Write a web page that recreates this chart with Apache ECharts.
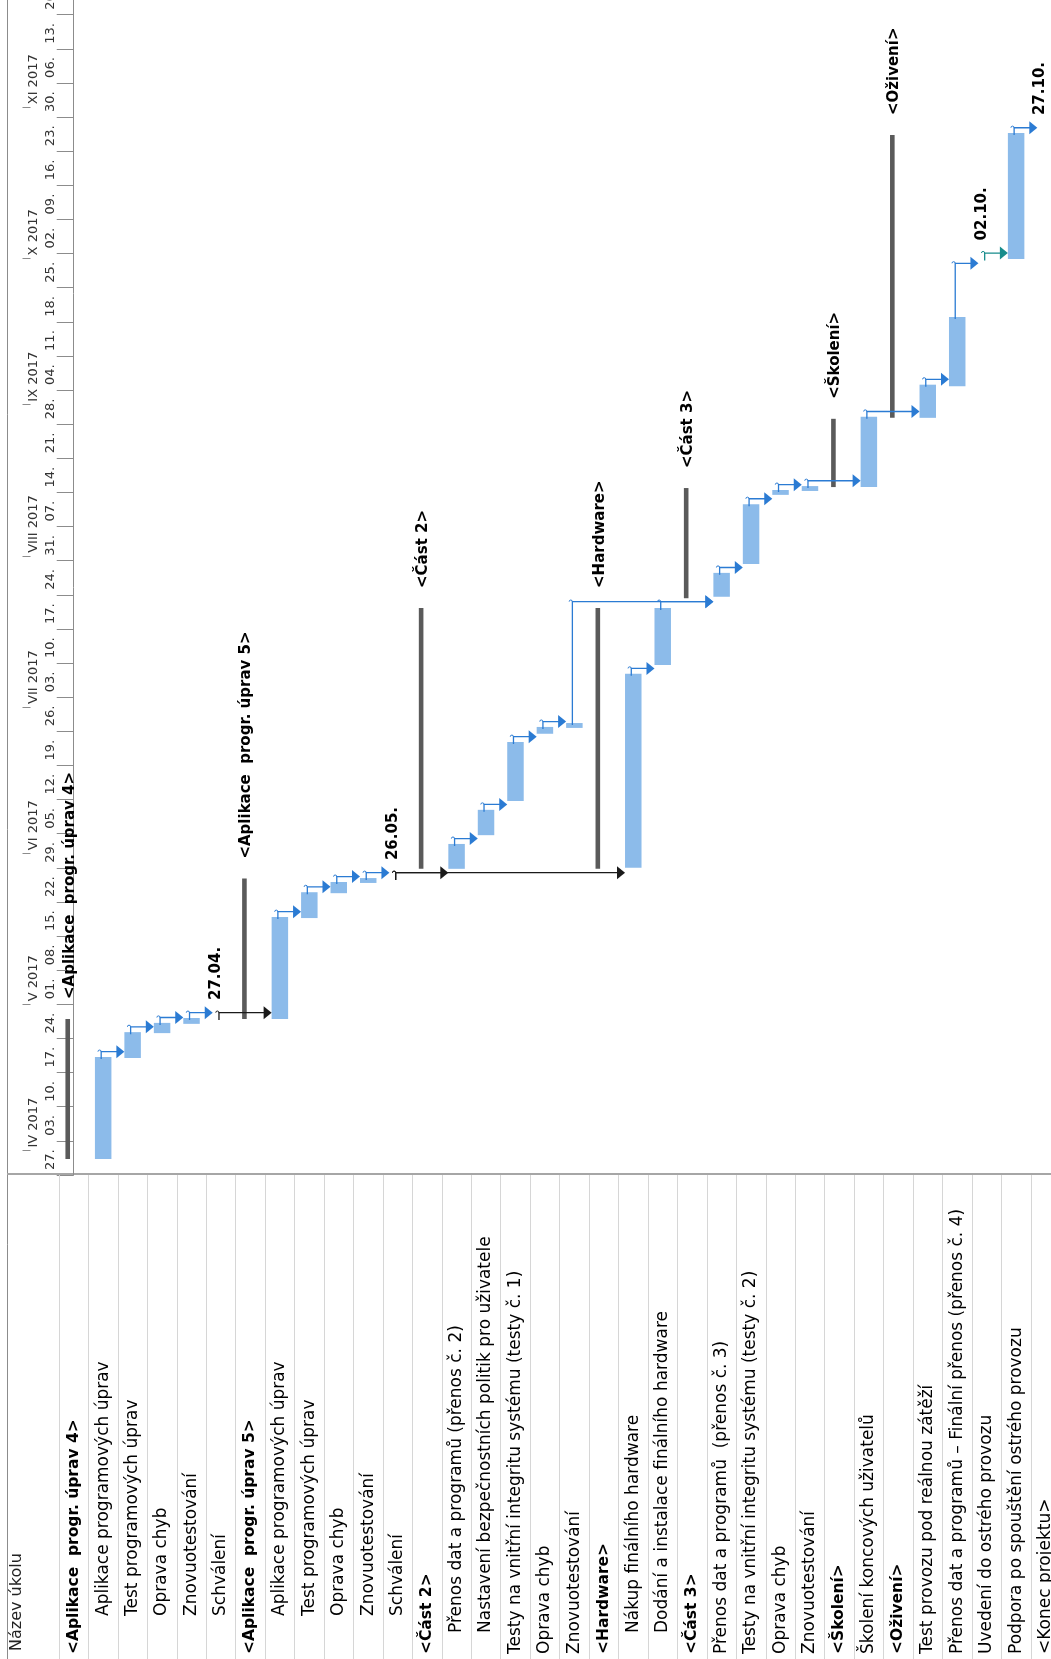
<!DOCTYPE html>
<html>
<head>
<meta charset="utf-8">
<title>Harmonogram projektu</title>
<script src="https://cdn.jsdelivr.net/npm/echarts@6/dist/echarts.min.js"></script>
<style>
    html, body { margin: 0; padding: 0; background: #fff; }
    #gantt { width: 1051px; height: 1659px; }
</style>
</head>
<body>
<div id="gantt"></div>
<script>
    // time is counted in days from Monday 27.03.2017 00:00

    const rowNames = [
        '<Aplikace  progr. úprav 4>', 'Aplikace programových úprav', 'Test programových úprav',
        'Oprava chyb', 'Znovuotestování', 'Schválení',
        '<Aplikace  progr. úprav 5>', 'Aplikace programových úprav', 'Test programových úprav',
        'Oprava chyb', 'Znovuotestování', 'Schválení',
        '<Část 2>', 'Přenos dat a programů (přenos č. 2)', 'Nastavení bezpečnostních politik pro uživatele',
        'Testy na vnitřní integritu systému (testy č. 1)', 'Oprava chyb', 'Znovuotestování',
        '<Hardware>', 'Nákup finálního hardware', 'Dodání a instalace finálního hardware',
        '<Část 3>', 'Přenos dat a programů  (přenos č. 3)', 'Testy na vnitřní integritu systému (testy č. 2)',
        'Oprava chyb', 'Znovuotestování',
        '<Školení>', 'Školení koncových uživatelů',
        '<Oživení>', 'Test provozu pod reálnou zátěží', 'Přenos dat a programů – Finální přenos (přenos č. 4)',
        'Uvedení do ostrého provozu', 'Podpora po spouštění ostrého provozu', '<Konec projektu>'
    ];

    // sum = summary task, task = normal task, ms = milestone
    const rowType = [
        'sum', 'task', 'task', 'task', 'task', 'ms',
        'sum', 'task', 'task', 'task', 'task', 'ms',
        'sum', 'task', 'task', 'task', 'task', 'task',
        'sum', 'task', 'task',
        'sum', 'task', 'task', 'task', 'task',
        'sum', 'task',
        'sum', 'task', 'task', 'ms', 'task', 'ms'
    ];

    // text style of the name column
    const rowStyle = [
        'b', 'i2', 'i2', 'i2', 'i2', 'i2',
        'b', 'i2', 'i2', 'i2', 'i2', 'i2',
        'b', 'i1', 'i1', 'n', 'n', 'n',
        'b', 'i1', 'i1',
        'b', 'n', 'n', 'n', 'n',
        'b', 'n',
        'b', 'n', 'n', 'n', 'n', 'n'
    ];

    const startDay = [
        3.3, 3.3, 24.0, 29.1, 31.0, 32.2,
        32.0, 32.0, 52.7, 57.8, 59.9, 60.9,
        62.8, 62.8, 69.7, 76.7, 90.5, 91.7,
        62.8, 63.0, 104.6,
        118.3, 118.6, 125.3, 139.5, 140.3,
        141.1, 141.1,
        155.3, 155.3, 161.8, 188.0, 187.9, 213.7
    ];
    const endDay = [
        32.0, 24.2, 29.3, 31.2, 32.2, 32.2,
        60.8, 52.9, 58.0, 60.1, 60.9, 60.9,
        116.3, 67.9, 74.9, 88.8, 91.9, 92.7,
        116.3, 102.8, 116.3,
        140.9, 123.5, 137.6, 140.5, 141.3,
        155.1, 155.5,
        213.3, 162.1, 176.0, 188.0, 213.7, 213.7
    ];

    const milestoneRows = [5, 11, 31, 33];
    const milestoneText = ['27.04.', '26.05.', '02.10.', '27.10.'];

    // vazby mezi úkoly
    const linkFrom  = [1, 2, 3, 4, 5, 7, 8, 9, 10, 11, 11, 13, 14, 15, 16, 17, 19, 20, 22, 23, 24, 25, 27, 29, 30, 31, 32];
    const linkTo    = [2, 3, 4, 5, 7, 8, 9, 10, 11, 13, 19, 14, 15, 16, 17, 22, 20, 22, 23, 24, 25, 27, 29, 30, 31, 32, 33];
    const linkColor = ['b', 'b', 'b', 'b', 'k', 'b', 'b', 'b', 'b', 'k', 'k', 'b', 'b', 'b', 'b', 'b', 'b', 'b', 'b', 'b', 'b', 'b', 'b', 'b', 'b', 't', 'b'];

    // timescale
    const weekLabels = ['27.', '03.', '10.', '17.', '24.', '01.', '08.', '15.', '22.', '29.', '05.', '12.',
        '19.', '26.', '03.', '10.', '17.', '24.', '31.', '07.', '14.', '21.', '28.', '04.', '11.', '18.',
        '25.', '02.', '09.', '16.', '23.', '30.', '06.', '13.', '20.'];
    const monthLabels = ['IV 2017', 'V 2017', 'VI 2017', 'VII 2017', 'VIII 2017', 'IX 2017', 'X 2017', 'XI 2017'];
    const monthStartDay = [5, 35, 66, 96, 127, 158, 188, 219];

    const colors = { b: '#2b7bd3', k: '#1a1a1a', t: '#178c8c' };
    const barColor = '#8cbbea';
    const sumColor = '#5a5a5a';
    const font = '"DejaVu Sans", sans-serif';

    const weekDays = weekLabels.map((w, i) => i * 7);

    const taskData = rowNames.map((n, i) => [i, startDay[i], endDay[i]]);
    const linkData = linkFrom.map((f, i) => {
        const t = linkTo[i];
        const level = Math.max(endDay[f] + 1.1, startDay[t] - 1.0);
        return [f, t, endDay[f], level, i];
    });

    function renderTask(params, api) {
        const row = api.value(0);
        const kind = rowType[row];
        const p0 = api.coord([row, api.value(1)]);
        const p1 = api.coord([row, api.value(2)]);
        const rowW = api.size([1, 0])[0];
        if (kind === 'task') {
            const w = rowW * 0.56;
            return {
                type: 'rect',
                shape: { x: p0[0] - w / 2, y: p1[1], width: w, height: p0[1] - p1[1] },
                style: { fill: barColor }
            };
        }
        if (kind === 'sum') {
            return {
                type: 'group',
                children: [
                    {
                        type: 'rect',
                        shape: { x: p0[0] - 8.3, y: p1[1], width: 4.6, height: p0[1] - p1[1] },
                        style: { fill: sumColor }
                    },
                    {
                        type: 'text',
                        x: p0[0] - 4, y: p1[1] - 20, rotation: Math.PI / 2,
                        style: {
                            text: rowNames[row], fill: '#000',
                            font: 'bold 15px ' + font, align: 'left', verticalAlign: 'middle'
                        }
                    }
                ]
            };
        }
        const k = milestoneRows.indexOf(row);
        return {
            type: 'text',
            x: p1[0] - 5, y: p1[1] - 18, rotation: Math.PI / 2,
            style: {
                text: milestoneText[k], fill: '#000',
                font: 'bold 15px ' + font, align: 'left', verticalAlign: 'middle'
            }
        };
    }

    function renderLink(params, api) {
        const a = api.coord([api.value(0), api.value(2)]);
        const b = api.coord([api.value(1), api.value(3)]);
        const rowW = api.size([1, 0])[0];
        const c = colors[linkColor[api.value(4)]];
        const x0 = a[0] - 2;
        const tip = b[0] - rowW * 0.28;
        const y = b[1];
        return {
            type: 'group',
            children: [
                {
                    type: 'polyline',
                    shape: { points: [[x0, a[1] + 2], [x0, y], [tip - 6, y]] },
                    style: { stroke: c, lineWidth: 1.3, fill: null }
                },
                {
                    type: 'arc',
                    shape: { cx: x0 - 1.6, cy: y, r: 1.6, startAngle: 0, endAngle: Math.PI, clockwise: false },
                    style: { stroke: c, lineWidth: 1, fill: null }
                },
                {
                    type: 'polygon',
                    shape: { points: [[tip, y], [tip - 8, y - 6.5], [tip - 8, y + 6.5]] },
                    style: { fill: c }
                }
            ]
        };
    }

    const chart = echarts.init(document.getElementById('gantt'));
    chart.setOption({
        animation: false,
        backgroundColor: '#fff',
        grid: {
            left: 59, top: 0, width: 34 * 29.45, height: 1175,
            containLabel: false, outerBoundsMode: 'none'
        },
        xAxis: [
            {
                type: 'value', min: -0.5, max: 33.5, show: false
            },
            {
                // row separators of the name table
                type: 'category',
                data: rowNames,
                position: 'bottom',
                boundaryGap: true,
                axisLine: { show: false },
                axisTick: {
                    show: true, length: 484, interval: 0,
                    lineStyle: { color: '#d6d6d6', width: 1 }
                },
                axisLabel: { show: false }
            },
            {
                // task names
                type: 'category',
                data: rowNames,
                position: 'bottom',
                offset: 484,
                boundaryGap: true,
                axisLine: { show: false },
                axisTick: { show: false },
                axisLabel: {
                    interval: 0, inside: true, rotate: 90, margin: 5,
                    align: 'left', verticalAlign: 'middle',
                    formatter: (v, i) => '{' + rowStyle[i] + '|' + v + '}',
                    rich: {
                        b: { fontFamily: font, fontWeight: 'bold', fontSize: 15.5, color: '#000' },
                        n: { fontFamily: font, fontSize: 17, color: '#000' },
                        i1: { fontFamily: font, fontSize: 17, color: '#000', padding: [0, 0, 0, 21] },
                        i2: { fontFamily: font, fontSize: 17, color: '#000', padding: [0, 0, 0, 38] }
                    }
                }
            }
        ],
        yAxis: [
            {
                type: 'value', min: 0, max: 241, position: 'left',
                splitLine: { show: false },
                axisLine: { show: true, lineStyle: { color: '#8c8c8c', width: 1 } },
                axisTick: {
                    show: true, length: 17, customValues: weekDays,
                    lineStyle: { color: '#8c8c8c', width: 1 }
                },
                axisLabel: {
                    customValues: weekDays, rotate: 90, margin: 2,
                    align: 'left', verticalAlign: 'bottom', padding: [0, 0, 0, 5],
                    fontFamily: font, fontSize: 13, color: '#333',
                    formatter: v => weekLabels[Math.round(v / 7)]
                }
            },
            {
                type: 'value', min: 0, max: 241, position: 'left', offset: 28.5,
                splitLine: { show: false },
                axisLine: { show: false },
                axisTick: {
                    show: true, length: 8, customValues: monthStartDay,
                    lineStyle: { color: '#8c8c8c', width: 1 }
                },
                axisLabel: {
                    customValues: monthStartDay, rotate: 90, margin: -10,
                    align: 'left', verticalAlign: 'bottom', padding: [0, 0, 0, 3],
                    fontFamily: font, fontSize: 13, color: '#333',
                    formatter: v => monthLabels[monthStartDay.indexOf(Math.round(v))]
                }
            }
        ],
        graphic: [
            { type: 'line', shape: { x1: 7.5, y1: 0, x2: 7.5, y2: 1659 }, style: { stroke: '#8c8c8c', lineWidth: 1 } },
            { type: 'line', shape: { x1: 59.5, y1: 1175, x2: 59.5, y2: 1659 }, style: { stroke: '#8c8c8c', lineWidth: 1 } },
            { type: 'line', shape: { x1: 7, y1: 1174, x2: 1051, y2: 1174 }, style: { stroke: '#a6a6a6', lineWidth: 2 } },
            {
                type: 'text', x: 17, y: 1651, rotation: Math.PI / 2,
                style: { text: 'Název úkolu', font: '16px ' + font, fill: '#222', align: 'left', verticalAlign: 'middle' }
            }
        ],
        series: [
            {
                type: 'custom',
                name: 'vazby',
                xAxisIndex: 0, yAxisIndex: 0,
                renderItem: renderLink,
                data: linkData,
                z: 3
            },
            {
                type: 'custom',
                name: 'úkoly',
                xAxisIndex: 0, yAxisIndex: 0,
                renderItem: renderTask,
                data: taskData,
                z: 2
            }
        ]
    });
</script>
</body>
</html>
